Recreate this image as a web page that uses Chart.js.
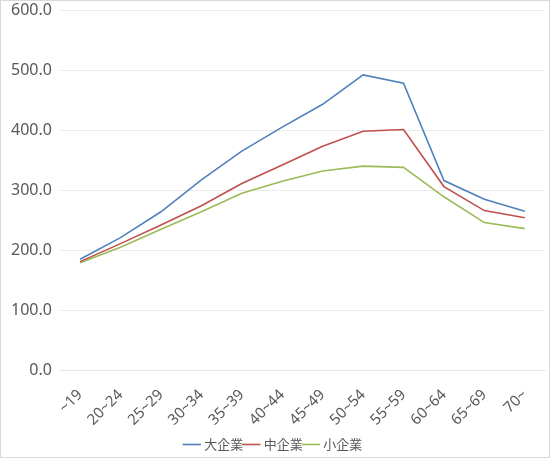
<!DOCTYPE html>
<html>
<head>
<meta charset="utf-8">
<script src="https://cdn.jsdelivr.net/npm/chart.js@4/dist/chart.umd.min.js"></script>
<style>
  html, body { margin: 0; padding: 0; background: #fff; }
  #wrap { width: 548px; height: 456px; border: 1px solid #d9d9d9; overflow: hidden; }
  #chart { display: block; margin-top: -8px; }
</style>
</head>
<body>
<div id="wrap"><canvas id="chart" width="548" height="468"></canvas></div>
<script>
const ageGroups = ['~19', '20~24', '25~29', '30~34', '35~39', '40~44', '45~49', '50~54', '55~59', '60~64', '65~69', '70~'];
const large = [186, 222, 265, 318, 366, 406, 444, 493, 479, 317, 286, 266];
const medium = [182, 212, 243, 275, 312, 343, 374, 399, 402, 307, 267, 255];
const small = [180, 206, 236, 265, 296, 316, 333, 341, 339, 290, 247, 237];

const font = "'Noto Sans', 'Noto Sans CJK JP', sans-serif";

const makeSet = (label, data, color) => ({
  label: label,
  data: data,
  borderColor: color,
  backgroundColor: color,
  borderWidth: 1.6,
  pointRadius: 0,
  tension: 0,
  fill: false
});

const ctx = document.querySelector('#chart').getContext('2d');
let chart = new Chart(ctx, {
  type: 'line',
  data: {
    labels: ageGroups,
    datasets: [
      makeSet('大企業', large, '#4f81bd'),
      makeSet('中企業', medium, '#c0504d'),
      makeSet('小企業', small, '#9bbb59')
    ]
  },
  options: {
    responsive: false,
    animation: false,
    layout: { padding: { top: 0, right: 4, left: 2, bottom: 0 } },
    plugins: {
      tooltip: { enabled: false },
      legend: {
        display: true,
        position: 'bottom',
        labels: {
          usePointStyle: true,
          pointStyle: 'line',
          boxWidth: 12,
          padding: 2,
          color: '#595959',
          font: { family: "'Noto Sans CJK JP', sans-serif", size: 13 }
        }
      }
    },
    scales: {
      x: {
        offset: true,
        grid: { display: false },
        border: { color: '#e6e6e6' },
        ticks: {
          color: '#595959',
          maxRotation: 45,
          minRotation: 45,
          autoSkip: false,
          padding: 7,
          font: { family: font, size: 15 }
        }
      },
      y: {
        min: 0,
        max: 600,
        grid: { color: '#ebebeb', drawTicks: false },
        border: { display: false },
        ticks: {
          stepSize: 100,
          padding: 8,
          color: '#595959',
          font: { family: font, size: 16 },
          callback: v => v.toFixed(1)
        }
      }
    }
  }
});
</script>
</body>
</html>
